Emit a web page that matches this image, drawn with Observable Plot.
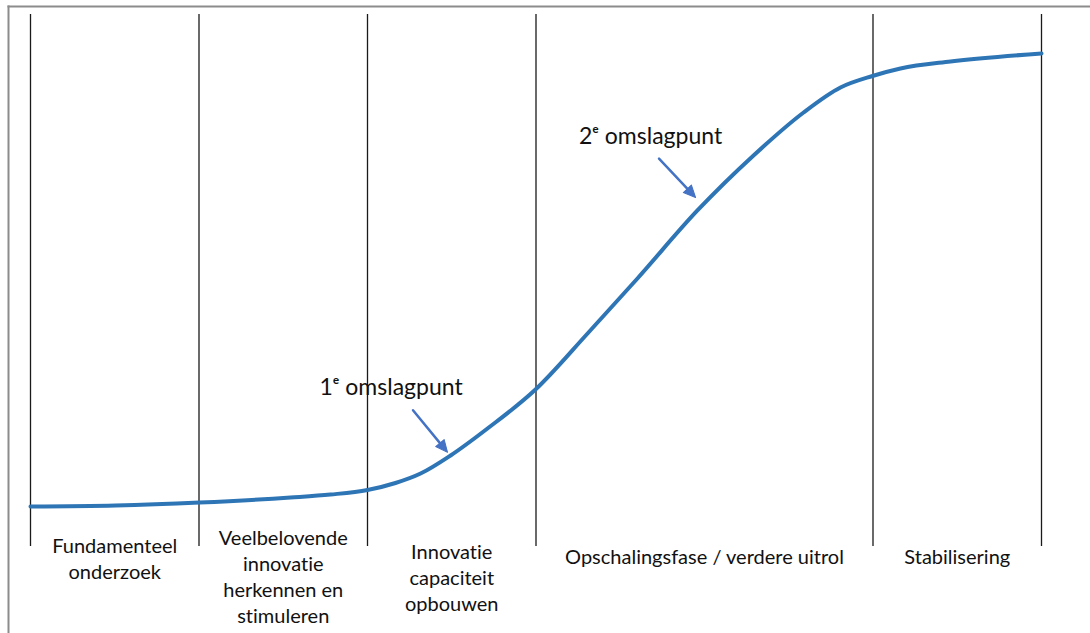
<!DOCTYPE html>
<html>
<head>
<meta charset="utf-8">
<script src="https://cdn.jsdelivr.net/npm/d3@7"></script>
<script src="https://cdn.jsdelivr.net/npm/@observablehq/plot@0.6"></script>
<style>
  html, body { margin: 0; padding: 0; background: #fff; }
  #chart svg { display: block; }
  #chart svg text { font-variant-ligatures: none; font-feature-settings: "liga" 0, "clig" 0, "dlig" 0; }
</style>
</head>
<body>
<div id="chart"></div>
<script>
// ---- data ----
// phase boundaries (x, in phase units; the scale-up phase is two units wide)
const boundaries = [0, 1, 2, 3, 5, 6];
const phaseLabels = [
  "Fundamenteel\nonderzoek",
  "Veelbelovende\ninnovatie\nherkennen en\nstimuleren",
  "Innovatie\ncapaciteit\nopbouwen",
  "Opschalingsfase / verdere uitrol",
  "Stabilisering"
];
// S-curve (adoption level, 0–100)
const curveX = [0, 0.504, 1.003, 1.543, 1.78, 2.0, 2.166, 2.315, 2.493, 2.712, 2.997, 3.306, 3.602, 3.958, 4.291, 4.588, 4.807, 4.997, 5.163, 5.46, 6.0];
const curveY = [7.52, 7.71, 8.27, 9.21, 9.77, 10.62, 11.94, 13.72, 17.11, 22.18, 29.51, 40.04, 50.38, 63.16, 73.5, 81.58, 86.28, 88.44, 89.85, 91.17, 92.67];
// turning points
const turnLabels = ["1\u1D49 omslagpunt", "2\u1D49 omslagpunt"];
const turnLabelX = [2.14, 3.68];
const turnLabelY = [29.9, 77.1];
const arrowFromX = [2.27, 3.73];
const arrowFromY = [25.6, 72.9];
const arrowToX = [2.475, 3.947];
const arrowToY = [17.7, 65.6];

// ---- layout / style ----
const labelDy = [-12, -20, -6, -1, -1];
const font = "Lato, 'Open Sans', sans-serif";
const xRange = [30, 1041], yRange = [546, 14];
const pxPerX = (xRange[1] - xRange[0]) / 6, pxPerY = (yRange[0] - yRange[1]) / 100;

const curve = curveX.map((x, i) => ({x, y: curveY[i]}));
const phases = phaseLabels.map((label, i) => ({
  label, x: (boundaries[i] + boundaries[i + 1]) / 2, dy: labelDy[i]
}));
const turns = turnLabels.map((label, i) => {
  const dxp = (arrowToX[i] - arrowFromX[i]) * pxPerX;
  const dyp = (arrowToY[i] - arrowFromY[i]) * pxPerY; // upward positive
  return {
    label, x: turnLabelX[i], y: turnLabelY[i],
    x1: arrowFromX[i], y1: arrowFromY[i], x2: arrowToX[i], y2: arrowToY[i],
    angle: Math.atan2(dxp, dyp) * 180 / Math.PI
  };
});
const triangleHead = {
  draw(context, l) {
    const w = 5.5;
    context.moveTo(0, -l);
    context.lineTo(-w, 0);
    context.lineTo(w, 0);
    context.closePath();
  }
};
const arrowColor = "#4472c4";

const plot = Plot.plot({
  width: 1090,
  height: 633,
  marginTop: 6,
  marginLeft: 8,
  marginRight: 0,
  marginBottom: 0,
  x: {domain: [0, 6], range: xRange, axis: null},
  y: {domain: [0, 100], range: yRange, axis: null},
  style: {fontFamily: font, background: "#fff"},
  marks: [
    Plot.frame({anchor: "top", stroke: "#8c8c8c", strokeWidth: 2}),
    Plot.frame({anchor: "left", stroke: "#8c8c8c", strokeWidth: 2}),
    Plot.ruleX(boundaries, {y1: 0, y2: 100, stroke: "#1a1a1a", strokeWidth: 1.3}),
    Plot.line(curve, {x: "x", y: "y", curve: "monotone-x", stroke: "#2e75b6", strokeWidth: 4}),
    Plot.arrow(turns, {x1: "x1", y1: "y1", x2: "x2", y2: "y2", stroke: arrowColor, strokeWidth: 2.5, headLength: 0, insetEnd: 8}),
    Plot.vector(turns, {x: "x2", y: "y2", rotate: "angle", length: 12, anchor: "end",
      shape: triangleHead, fill: arrowColor, stroke: arrowColor, strokeWidth: 1}),
    Plot.text(turns, {x: "x", y: "y", text: "label", fontSize: 23, fill: "#111"}),
    ...phases.map(p => Plot.text([p], {
      x: "x", y: () => 0, text: "label", dy: p.dy, lineAnchor: "top",
      lineHeight: 1.3, fontSize: 20, fill: "#111"
    }))
  ]
});
document.getElementById("chart").append(plot);
</script>
</body>
</html>
